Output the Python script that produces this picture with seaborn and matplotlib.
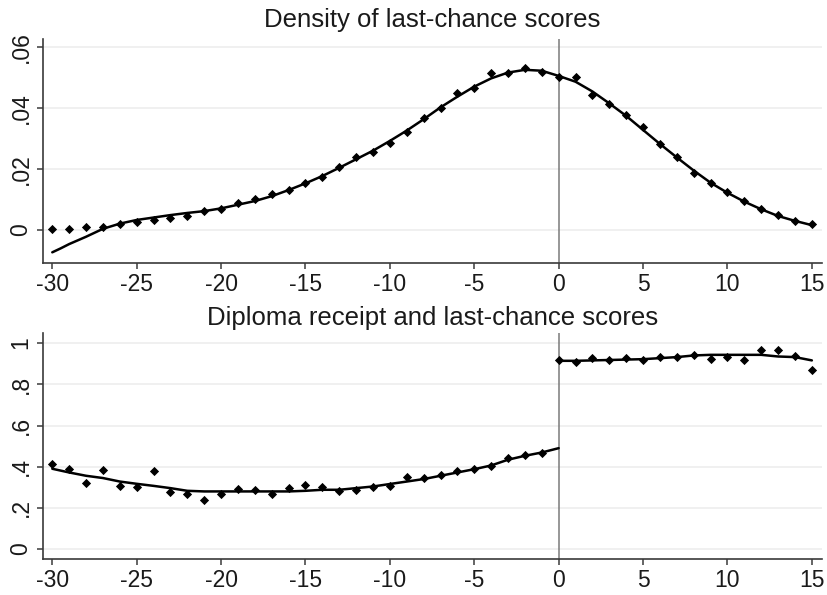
import numpy as np
import pandas as pd
import matplotlib
matplotlib.use("Agg")
import matplotlib.pyplot as plt
import seaborn as sns

# Data
score = list(range(-30, 16))

density_points = [0.0003, 0.0005, 0.0011, 0.0011, 0.0020, 0.0027, 0.0033, 0.0038,
                  0.0047, 0.0063, 0.0068, 0.0087, 0.0101, 0.0118, 0.0131, 0.0155,
                  0.0175, 0.0208, 0.0238, 0.0257, 0.0284, 0.0322, 0.0366, 0.0399,
                  0.0450, 0.0464, 0.0516, 0.0516, 0.0530, 0.0519, 0.0501, 0.0501,
                  0.0443, 0.0413, 0.0377, 0.0337, 0.0282, 0.0240, 0.0186, 0.0153,
                  0.0124, 0.0095, 0.0068, 0.0049, 0.0030, 0.0019]

density_fit_x = [-30, -29.5, -29, -28.5, -28, -27, -26, -25, -24, -23, -22, -21, -20,
                 -19, -18, -17, -16, -15, -14, -13, -12, -11, -10, -9, -8, -7, -6, -5,
                 -4, -3, -2, -1, 0, 1, 2, 3, 4, 5, 6, 7, 8, 9, 10, 11, 12, 13, 14, 15]
density_fit_y = [-0.0073, -0.0060, -0.0046, -0.0034, -0.0022, 0.0004, 0.0021, 0.0033,
                 0.0041, 0.0049, 0.0056, 0.0062, 0.0071, 0.0083, 0.0095, 0.0111,
                 0.0131, 0.0153, 0.0177, 0.0204, 0.0232, 0.0260, 0.0292, 0.0326,
                 0.0363, 0.0402, 0.0437, 0.0470, 0.0497, 0.0516, 0.0525, 0.0522,
                 0.0505, 0.0486, 0.0454, 0.0415, 0.0374, 0.0328, 0.0282, 0.0238,
                 0.0195, 0.0155, 0.0122, 0.0093, 0.0068, 0.0046, 0.0030, 0.0016]

diploma_left_x = list(range(-30, 0))
diploma_left = [0.414, 0.390, 0.320, 0.382, 0.304, 0.301, 0.380, 0.277, 0.267, 0.236,
                0.267, 0.291, 0.288, 0.267, 0.296, 0.312, 0.301, 0.280, 0.288, 0.301,
                0.304, 0.348, 0.345, 0.361, 0.377, 0.390, 0.401, 0.442, 0.458, 0.466]
diploma_right_x = list(range(0, 16))
diploma_right = [0.916, 0.906, 0.927, 0.916, 0.927, 0.919, 0.932, 0.932, 0.943, 0.924,
                 0.932, 0.919, 0.967, 0.967, 0.938, 0.871]

fit_left_x = list(range(-30, 1))
fit_left = [0.390, 0.372, 0.356, 0.345, 0.328, 0.317, 0.307, 0.296, 0.283, 0.280,
            0.280, 0.280, 0.280, 0.280, 0.280, 0.283, 0.288, 0.288, 0.296, 0.304,
            0.316, 0.328, 0.340, 0.356, 0.372, 0.388, 0.406, 0.434, 0.453, 0.469, 0.490]
fit_right_x = list(range(0, 16))
fit_right = [0.914, 0.914, 0.916, 0.918, 0.920, 0.922, 0.927, 0.932, 0.940, 0.943,
             0.943, 0.943, 0.943, 0.935, 0.932, 0.916]

# Style
sns.set_theme(style="white")
plt.rcParams['font.family'] = ['Liberation Sans', 'DejaVu Sans']

W, H = 828, 595
fig = plt.figure(figsize=(W / 100, H / 100), dpi=100)
ax1 = fig.add_axes([43 / W, 1 - 263 / H, 779 / W, 224 / H])
ax2 = fig.add_axes([43 / W, 1 - 559 / H, 779 / W, 226 / H])

mk = dict(marker='D', s=22, color='black', edgecolor='black', linewidth=0, zorder=3)
ln = dict(color='black', linewidth=1.8, zorder=2)

# Top panel: density
sns.scatterplot(x=score, y=density_points, ax=ax1, **mk)
sns.lineplot(x=density_fit_x, y=density_fit_y, ax=ax1, **ln)
ax1.set_xlim(-30.55, 15.6)
ax1.set_ylim(-0.0108, 0.0626)
ax1.set_yticks([0, 0.02, 0.04, 0.06])
ax1.set_yticklabels(['0', '.02', '.04', '.06'])

# Bottom panel: diploma receipt
sns.scatterplot(x=diploma_left_x, y=diploma_left, ax=ax2, **mk)
sns.scatterplot(x=diploma_right_x, y=diploma_right, ax=ax2, **mk)
sns.lineplot(x=fit_left_x, y=fit_left, ax=ax2, **ln)
sns.lineplot(x=fit_right_x, y=fit_right, ax=ax2, **ln)
ax2.set_xlim(-30.55, 15.6)
ax2.set_ylim(-0.048, 1.049)
ax2.set_yticks([0, 0.2, 0.4, 0.6, 0.8, 1.0])
ax2.set_yticklabels(['0', '.2', '.4', '.6', '.8', '1'])

for ax in (ax1, ax2):
    ax.axvline(0, color='#7a7a7a', linewidth=1.1, zorder=1)
    ax.set_xticks([-30, -25, -20, -15, -10, -5, 0, 5, 10, 15])
    ax.set_xticklabels(['-30', '-25', '-20', '-15', '-10', '-5', '0', '5', '10', '15'])
    ax.grid(axis='y', color='#eeeeee', linewidth=1.2)
    ax.set_axisbelow(True)
    for side in ('top', 'right'):
        ax.spines[side].set_visible(False)
    for side in ('left', 'bottom'):
        ax.spines[side].set_color('#3a3a3a')
        ax.spines[side].set_linewidth(1.2)
    ax.tick_params(axis='both', which='major', bottom=True, left=True,
                   length=4.5, width=1.1, color='#3a3a3a', labelsize=16.5,
                   labelcolor='#1a1a1a')
    ax.tick_params(axis='x', pad=3)
    ax.tick_params(axis='y', pad=3, labelrotation=90)
    for t in ax.get_yticklabels():
        t.set_va('center')
    ax.set_xlabel('')
    ax.set_ylabel('')

cx = (43 + 779 / 2) / W
fig.text(cx, 1 - 26.7 / H, 'Density of last-chance scores', ha='center',
         va='baseline', fontsize=18.5, color='#1a1a1a')
fig.text(cx, 1 - 325 / H, 'Diploma receipt and last-chance scores', ha='center',
         va='baseline', fontsize=18.5, color='#1a1a1a')

fig.savefig('out.png', dpi=100)
